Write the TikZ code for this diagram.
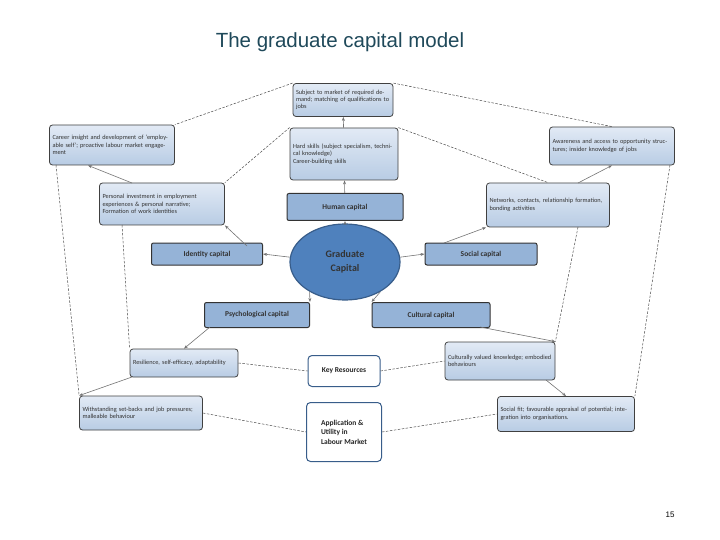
\documentclass[tikz,border=0pt]{standalone}
\usepackage{fontspec}
\setmainfont{Liberation Sans}
\setsansfont{Carlito}
\usetikzlibrary{shapes.geometric,arrows.meta}
\definecolor{ltop}{RGB}{226,234,245}
\definecolor{lbot}{RGB}{184,204,228}
\definecolor{capb}{RGB}{149,179,215}
\definecolor{ellf}{RGB}{79,129,189}
\definecolor{elld}{RGB}{56,93,138}
\definecolor{titc}{RGB}{31,73,90}
\begin{document}
\begin{tikzpicture}[x=1pt,y=-1pt,
  lbox/.style={draw=black!75,line width=0.8pt,rounded corners=3pt,top color=ltop,bottom color=lbot,align=left,anchor=center,font=\sffamily\fontsize{6.3}{7.3}\selectfont,inner sep=2.5pt,text=black!80},
  cbox/.style={draw=black!80,line width=1pt,rounded corners=2pt,fill=capb,font=\sffamily\bfseries\fontsize{7.5}{9}\selectfont,text=black!80},
  wbox/.style={draw=elld,line width=1pt,rounded corners=4pt,fill=white,font=\sffamily\bfseries\fontsize{7.5}{9.5}\selectfont,text=black!85},
  arr/.style={draw=black!55,line width=0.6pt,-{Stealth[length=4pt]}},
  dsh/.style={draw=black!70,line width=0.5pt,dash pattern=on 2.5pt off 1.5pt}]
\useasboundingbox (0,0) rectangle (720,540);
\node[text=titc,font=\fontsize{20.5}{24}\selectfont] (title) at (340,42) {The graduate capital model};
\node[font=\fontsize{8}{10}\selectfont] (pg) at (670,515) {15};

\node[lbox,minimum width=100pt,minimum height=33pt,text width=94pt] (top) at (343,100) {Subject to market of required demand; matching of qualifications to jobs};
\node[lbox,minimum width=125pt,minimum height=40pt,text width=119pt] (career) at (112,145) {Career insight and development of `employable self'; proactive labour market engagement};
\node[lbox,minimum width=108pt,minimum height=52pt,text width=102pt] (hard) at (344,154) {Hard skills (subject specialism, technical knowledge)\\Career-building skills\\[12pt]};
\node[lbox,minimum width=125pt,minimum height=38pt,text width=119pt] (aware) at (612,146) {Awareness and access to opportunity structures; insider knowledge of jobs\\[4pt]};
\node[lbox,minimum width=125pt,minimum height=42pt,text width=119pt] (pers) at (162,204) {Personal investment in employment\\experiences \& personal narrative;\\Formation of work identities};
\node[cbox,minimum width=116pt,minimum height=27pt] (human) at (345,207) {Human capital};
\node[lbox,minimum width=123pt,minimum height=44pt,text width=117pt] (net) at (548,205) {Networks, contacts, relationship formation, bonding activities\\[10pt]};
\node[cbox,minimum width=111pt,minimum height=22pt] (ident) at (207,254) {Identity capital};
\node[ellipse,draw=elld,line width=1.2pt,fill=ellf,minimum width=110pt,minimum height=76pt,align=center,font=\sffamily\bfseries\fontsize{10}{14}\selectfont,text=black!80] (grad) at (345,262) {Graduate\\Capital};
\node[cbox,minimum width=112pt,minimum height=22pt] (soc) at (481,254) {Social capital};
\node[cbox,minimum width=105pt,minimum height=25pt] (psy) at (257,315) {Psychological capital};
\node[cbox,minimum width=118pt,minimum height=25pt] (cul) at (431,315) {Cultural capital};
\node[lbox,minimum width=108pt,minimum height=28pt,text width=102pt] (res) at (184,363) {Resilience, self-efficacy, adaptability};
\node[wbox,minimum width=72pt,minimum height=31pt] (key) at (344,371) {Key Resources};
\node[lbox,minimum width=110pt,minimum height=38pt,text width=104pt] (cv) at (500,361) {Culturally valued knowledge; embodied behaviours\\[8pt]};
\node[lbox,minimum width=123pt,minimum height=34pt,text width=117pt] (with) at (141,413) {Withstanding set-backs and job pressures; malleable behaviour\\[6pt]};
\node[wbox,minimum width=75pt,minimum height=59pt,align=left] (app) at (344,432) {Application \&\\Utility in\\Labour Market};
\node[lbox,minimum width=137pt,minimum height=35pt,text width=131pt] (fit) at (566,414) {Social fit; favourable appraisal of potential; integration into organisations.\\[6pt]};

\coordinate (i1) at (247,246);
\coordinate (p1) at (132,183);
\coordinate (s1) at (444,243);
\coordinate (n1) at (578,183);
\coordinate (y1) at (210,327);
\coordinate (r1) at (132,377);
\coordinate (c1) at (480,327);
\coordinate (v1) at (546,380);
\draw[arr] (grad) -- (human);
\draw[arr] (human) -- (hard);
\draw[arr] (hard) -- (top);
\draw[arr] (grad.175) -- (ident.east);
\draw[arr] (i1) -- (pers.south east);
\draw[arr] (p1) -- (career.south west -| 88,0);
\draw[arr] (grad.5) -- (soc.west);
\draw[arr] (s1) -- (net.south west);
\draw[arr] (n1) -- (aware.south);
\draw[arr] (grad.220) -- (psy.north east);
\draw[arr] (grad.320) -- (cul.north west);
\draw[arr] (y1) -- (res.north);
\draw[arr] (r1) -- (with.north west);
\draw[arr] (c1) -- (cv.north east);
\draw[arr] (v1) -- (fit.north);

\draw[dsh] (top.north west) -- (career.north east);
\draw[dsh] (top.north east) -- (aware.north);
\draw[dsh] (hard.north west) -- (pers.north east);
\draw[dsh] (hard.north east) -- (net.north);
\coordinate (k1) at (56,165);
\coordinate (k2) at (122,225);
\coordinate (k3) at (578,227);
\coordinate (k4) at (670,165);
\draw[dsh] (k1) -- (with.north west);
\draw[dsh] (k2) -- (res.north west);
\draw[dsh] (k3) -- (cv.north east);
\draw[dsh] (k4) -- (fit.north east);
\draw[dsh] (res.east) -- (key.west);
\draw[dsh] (key.east) -- (cv.west);
\draw[dsh] (with.east) -- (app.west);
\draw[dsh] (app.east) -- (fit.west);
\end{tikzpicture}
\end{document}
